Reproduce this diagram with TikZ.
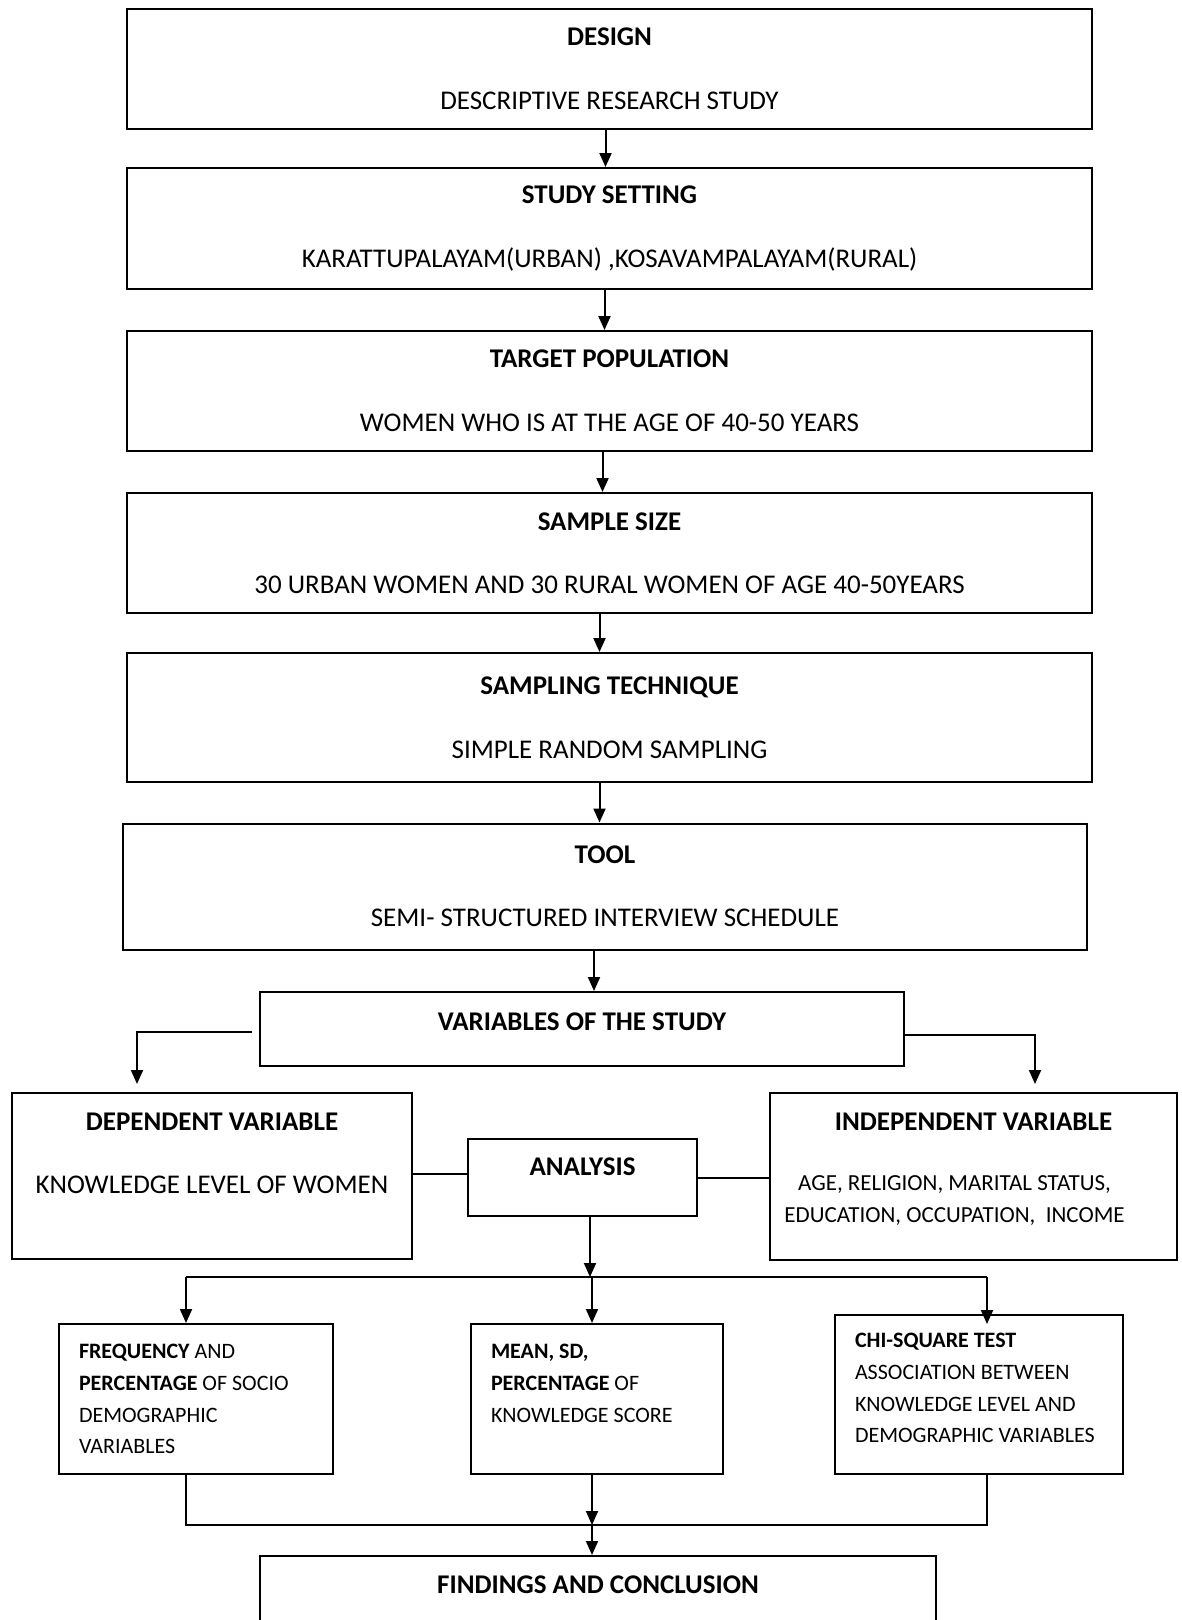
\documentclass[tikz,border=0pt]{standalone}
\usepackage{fontspec}
\setmainfont{Carlito}
\usetikzlibrary{arrows.meta, positioning, calc}

\begin{document}
\begin{tikzpicture}[x=1pt, y=-1pt,
    stage/.style={draw, rectangle, line width=2pt, align=center, inner sep=0pt, font=\fontsize{27}{32}\selectfont},
    smallbox/.style={draw, rectangle, line width=2pt, align=flush left, inner xsep=20pt, inner ysep=0pt, font=\fontsize{22}{31.7}\selectfont},
    arr/.style={-{Triangle[length=14pt, width=12pt]}, line width=2pt},
    link/.style={line width=2pt}]
  \useasboundingbox (0,0) rectangle (1181,1620);
  \clip (0,0) rectangle (1181,1620);

  % main column
  \node[stage, minimum width=965pt, minimum height=120pt] (design) at (609.5,69) {\textbf{DESIGN}\\[32pt]DESCRIPTIVE RESEARCH STUDY};
  \node[stage, minimum width=965pt, minimum height=121pt] (setting) at (609.5,228.5) {\textbf{STUDY SETTING}\\[32pt]KARATTUPALAYAM(URBAN) ,KOSAVAMPALAYAM(RURAL)};
  \node[stage, minimum width=965pt, minimum height=120pt] (target) at (609.5,391) {\textbf{TARGET POPULATION}\\[32pt]WOMEN WHO IS AT THE AGE OF 40-50 YEARS};
  \node[stage, minimum width=965pt, minimum height=120pt] (sample) at (609.5,553) {\textbf{SAMPLE SIZE}\\[31pt]30 URBAN WOMEN AND 30 RURAL WOMEN OF AGE 40-50YEARS};
  \node[stage, minimum width=965pt, minimum height=129pt] (sampling) at (609.5,717.5) {\textbf{SAMPLING TECHNIQUE}\\[32pt]SIMPLE RANDOM SAMPLING};
  \node[stage, minimum width=964pt, minimum height=126pt] (tool) at (605,886.5) {\textbf{TOOL}\\[31pt]SEMI- STRUCTURED INTERVIEW SCHEDULE};
  \node[stage, minimum width=644pt, minimum height=74pt, text depth=14pt] (vars) at (582,1029) {\textbf{VARIABLES OF THE STUDY}};

  % variables and analysis
  \node[stage, minimum width=400pt, minimum height=166pt, font=\fontsize{27}{31}\selectfont] (dep) at (212,1176) {\textbf{DEPENDENT VARIABLE}\\[32pt]KNOWLEDGE LEVEL OF WOMEN\\[14pt]\mbox{}};
  \node[stage, minimum width=229pt, minimum height=77pt, text depth=21pt] (anal) at (582.5,1177.5) {\textbf{ANALYSIS}};
  \node[stage, minimum width=407pt, minimum height=167pt, font=\fontsize{23}{32}\selectfont] (indep) at (973.5,1176.5) {{\fontsize{27}{32}\selectfont\textbf{INDEPENDENT VARIABLE}}\\[28pt]AGE, RELIGION, MARITAL STATUS,\hspace*{38pt}\mbox{}\\EDUCATION, OCCUPATION,\ \ INCOME\hspace*{38pt}\mbox{}\\[-15pt]\mbox{}};

  % statistics
  \node[smallbox, minimum width=274pt, minimum height=150pt, text width=234pt] (freq) at (196,1399) {\textbf{FREQUENCY} AND\\\textbf{PERCENTAGE} OF~SOCIO\\DEMOGRAPHIC\\VARIABLES};
  \node[smallbox, minimum width=252pt, minimum height=150pt, text width=212pt] (mean) at (597,1399) {\textbf{MEAN, SD,}\\\textbf{PERCENTAGE} OF\\KNOWLEDGE~SCORE\\\mbox{}};
  \node[smallbox, minimum width=288pt, minimum height=159pt, text width=248pt] (chi) at (979,1394.5) {\textbf{CHI-SQUARE~TEST}\\ASSOCIATION~BETWEEN\\KNOWLEDGE~LEVEL~AND\\DEMOGRAPHIC~VARIABLES\\[-19pt]\mbox{}};

  \node[stage, minimum width=676pt, minimum height=120pt, text depth=62pt] (findings) at (598,1616) {\textbf{FINDINGS AND CONCLUSION}};

  % arrows down the column
  \draw[arr] ([xshift=-4pt]design.south) -- ([xshift=-4pt]setting.north);
  \draw[arr] ([xshift=-5pt]setting.south) -- ([xshift=-5pt]target.north);
  \draw[arr] ([xshift=-7pt]target.south) -- ([xshift=-7pt]sample.north);
  \draw[arr] ([xshift=-10pt]sample.south) -- ([xshift=-10pt]sampling.north);
  \draw[arr] ([xshift=-10pt]sampling.south) -- ([xshift=-10pt]sampling.south |- tool.north);
  \draw[arr] ([xshift=-11pt]tool.south) -- ([xshift=-11pt]tool.south |- vars.north);

  % split to the variables
  \draw[arr, shorten >=8pt] ([xshift=-7pt,yshift=-3pt]vars.west) -| ([xshift=-75pt]dep.north);
  \draw[arr, shorten >=8pt] ([yshift=-6pt]vars.east) -| ([xshift=61.5pt]indep.north);
  \draw[link] ([yshift=2pt]dep.east) -- ([yshift=2pt]dep.east -| anal.west);
  \draw[link] (anal.east) -- (anal.east -| indep.west);

  % analysis branches
  \coordinate (split) at (592,1277);
  \coordinate (splitL) at (186,1277);
  \coordinate (splitR) at (987,1277);
  \draw[arr] ([xshift=7.5pt]anal.south) -- ([xshift=7.5pt]anal.south |- split);
  \draw[link] (splitL) -- (splitR);
  \draw[arr] (splitL) -- (splitL |- freq.north);
  \draw[arr] (split) -- (split |- mean.north);
  \draw[arr] (splitR) -- ([yshift=-10pt]splitR |- chi.north);

  % join to findings
  \coordinate (join) at (592,1525);
  \coordinate (joinL) at (186,1525);
  \coordinate (joinR) at (987,1525);
  \draw[link] (joinL |- freq.south) -- (joinL) -- (joinR) -- (joinR |- chi.south);
  \draw[arr] (join |- mean.south) -- (join);
  \draw[arr] (join) -- (join |- findings.north);
\end{tikzpicture}
\end{document}
